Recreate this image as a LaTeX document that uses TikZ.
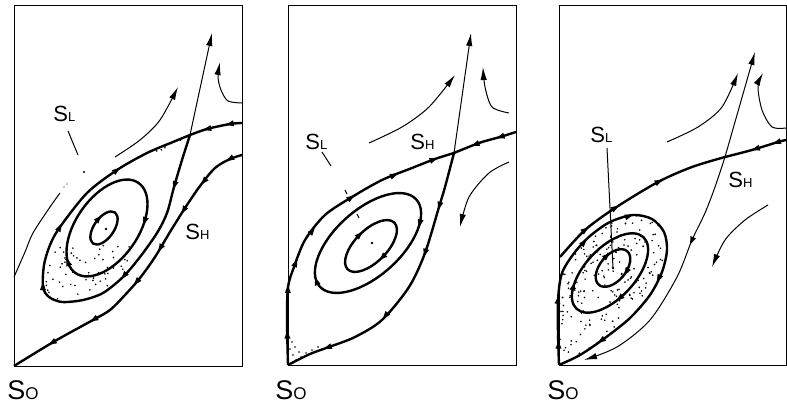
\documentclass[tikz,border=0pt]{standalone}
\usepackage{fontspec}
\setsansfont{Liberation Sans}
\usetikzlibrary{arrows.meta, decorations.markings}

\newcommand{\smallsub}[1]{{\fontsize{6.5}{6.5}\selectfont #1}}
\newcommand{\origsub}[1]{{\fontsize{8.5}{8.5}\selectfont #1}}
% smooth trajectory, with its direction marks set on the same points
\newcommand{\trajectory}[3]{%
    \draw[#1] plot[smooth] coordinates {#3};
    \path[#2] plot coordinates {#3};}
% closed orbit: centre x, centre y, half axes, tilt, marks
\newcommand{\orbit}[6]{%
    \draw[manifold, rotate around={#5:(#1,#2)}] (#1,#2) ellipse [x radius=#3, y radius=#4];
    \path[#6] plot[domain=0:360, samples=73]
        ({#1+#3*cos(\x)*cos(#5)+#4*sin(\x)*sin(#5)},{#2-#3*cos(\x)*sin(#5)+#4*sin(\x)*cos(#5)});}

\begin{document}
\begin{tikzpicture}[
    x=0.5pt, y=-0.5pt,
    panel/.style={line width=0.45pt},
    manifold/.style={line width=1.2pt, line join=round},
    flowline/.style={line width=0.5pt},
    flowtip/.style={-{Latex[length=6.5pt,width=3.2pt]}},
    tipat/.style={postaction={decorate, decoration={markings,
        mark=at position #1 with {\fill (2pt,0pt) -- (-2pt,1.5pt) -- (-2pt,-1.5pt) -- cycle;}}}},
    eqlabel/.style={inner sep=0pt, anchor=base west, font=\sffamily\fontsize{11}{11}\selectfont},
    originlabel/.style={inner sep=0pt, anchor=base west, font=\sffamily\fontsize{13.5}{13.5}\selectfont},
]
    \useasboundingbox (0,0) rectangle (787,405);
    \pgfmathsetseed{11}

    % Panel 1
    \draw[panel] (14,5) rectangle (242,366);
    \begin{scope}
        \clip plot[smooth] coordinates {(190,135) (182,160) (174,187) (167,213) (157,233) (140,257) (123,277) (103,293) (83,300) (62,302) (49,297) (43,287) (44,265) (50,245) (60,227) (87,193) (117,170) (147,153) (173,142) (190,135)};
        \foreach \k in {1,...,70}
            \fill ({45+85*rnd},{244+60*rnd}) circle (0.45pt);
        \foreach \k in {1,...,6}
            \fill ({145+40*rnd},{140+15*rnd}) circle (0.45pt);
    \end{scope}
    \trajectory{manifold}{tipat=0.04, tipat=0.15, tipat=0.26, tipat=0.40, tipat=0.53, tipat=0.71, tipat=0.86}
        {(242,155) (230,159) (215,168) (200,186) (185,208) (170,232) (155,257) (140,278) (125,295) (110,310) (93,320) (55,341) (14,366)}
    \trajectory{manifold}{tipat=0.11, tipat=0.33, tipat=0.53, tipat=0.66, tipat=0.83}
        {(190,135) (182,160) (174,187) (167,213) (157,233) (140,257) (123,277) (103,293) (83,300) (62,302) (49,297) (43,287) (44,265) (50,245) (60,227) (87,193) (117,170) (147,153) (173,142) (190,135)}
    \trajectory{manifold}{tipat=0.23, tipat=0.66}{(242,123) (230,124) (207,129) (190,135)}
    \orbit{107}{228}{55}{31}{55}{tipat=0.15, tipat=0.55}
    \orbit{104}{228}{19}{10}{55}{tipat=0.8}
    \coordinate (c1) at (106,229);
    \fill (c1) circle (0.65pt);
    \draw[flowline, flowtip] (190,135) -- (212,33);
    \draw[flowline, flowtip] plot[smooth] coordinates {(242,103) (228,101) (221,90) (218,77) (220,62)};
    \draw[flowline, flowtip] plot[smooth] coordinates {(115,157) (140,140) (160,120) (178,87)};
    \draw[flowline] plot[smooth] coordinates {(14,277) (25,252) (33,233) (50,207) (60,193)};
    \fill (64,187) circle (0.3pt);
    \fill (67,184) circle (0.3pt);
    \coordinate (l1) at (84,172);
    \draw[flowline] (68,131) -- (78,155);
    \fill (l1) circle (0.6pt);
    \node[eqlabel] (sl1) at (53,122) {S\smallsub{L}};
    \node[eqlabel] (sh1) at (185,240) {S\smallsub{H}};
    \node[originlabel] (so1) at (7,400) {S\origsub{O}};

    % Panel 2
    \begin{scope}[transform canvas={shift={(274,0)}}]
    \draw[panel] (14,5) rectangle (242,365);
    \foreach \p in {(18,342),(21,347),(25,352),(19,355),(27,357),(32,353),(38,350),(22,360),(44,347),(16,349)}
        \fill \p circle (0.45pt);
    \trajectory{manifold}{tipat=0.25, tipat=0.65}{(242,132) (226,137) (205,143) (180,153)}
    \trajectory{manifold}{tipat=0.1, tipat=0.25, tipat=0.34, tipat=0.46, tipat=0.63, tipat=0.79, tipat=0.93}
        {(14,365) (13,320) (14,287) (20,267) (31,240) (51,215) (78,197) (108,180) (138,168) (161,159) (180,153)}
    \trajectory{manifold}{tipat=0.19, tipat=0.36, tipat=0.62, tipat=0.85}
        {(180,153) (171,187) (165,207) (151,253) (135,287) (108,320) (81,337) (55,347) (36,354) (14,365)}
    \orbit{94}{243}{65}{33}{42}{tipat=0.08, tipat=0.52}
    \orbit{97}{246}{33}{16}{45}{tipat=0.25, tipat=0.75}
    \coordinate (c2) at (98,243);
    \fill (c2) circle (0.65pt);
    \draw[flowline, flowtip] (180,153) -- (197,33);
    \draw[flowline, flowtip] plot[smooth] coordinates {(95,143) (128,127) (155,107) (181,75)};
    \draw[flowline, flowtip] plot[smooth] coordinates {(235,113) (218,107) (211,87) (209,67)};
    \draw[flowline, flowtip] plot[smooth] coordinates {(235,162) (215,173) (195,197) (186,227)};
    \draw[flowline] (48,152) -- (57,166);
    \draw[flowline] (71,190) -- (73,194);
    \draw[flowline] (83,214) -- (85,218);
    \node[eqlabel] (sl2) at (31,150) {S\smallsub{L}};
    \node[eqlabel] (sh2) at (136,150) {S\smallsub{H}};
    \node[originlabel] (so2) at (1,400) {S\origsub{O}};
    \end{scope}

    % Panel 3
    \begin{scope}[transform canvas={shift={(545,0)}}]
    \draw[panel] (14,5) rectangle (241,365);
    \begin{scope}
        \clip plot[smooth] coordinates {(14,365) (13,333) (13,300) (17,273) (30,252) (45,236) (65,222) (88,215) (107,219) (119,232) (122,250) (117,272) (105,295) (85,318) (60,338) (35,355) (14,365)};
        \foreach \k in {1,...,300}
            \fill ({11+112*rnd},{212+154*rnd}) circle (0.45pt);
    \end{scope}
    \trajectory{manifold}{tipat=0.05, tipat=0.16, tipat=0.32, tipat=0.45, tipat=0.67, tipat=0.88}
        {(14,365) (13,333) (13,300) (17,273) (30,252) (45,236) (65,222) (88,215) (107,219) (119,232) (122,250) (117,272) (105,295) (85,318) (60,338) (35,355) (14,365)}
    \trajectory{manifold}{tipat=0.19, tipat=0.38, tipat=0.64}{(15,257) (40,230) (70,208) (113,182) (147,167) (180,157)}
    \trajectory{manifold}{tipat=0.15, tipat=0.5}{(241,140) (233,142) (207,150) (180,157)}
    \orbit{65}{273}{49}{25}{47}{tipat=0.3, tipat=0.6}
    \orbit{68}{268}{22}{13}{50}{tipat=0.2, tipat=0.8}
    \coordinate (c3) at (68,268);
    \fill (c3) circle (0.65pt);
    \draw[flowline, flowtip] (180,157) -- (210,52);
    \trajectory{flowline, flowtip}{tipat=0.35}{(180,157) (170,187) (160,213) (147,240) (132,277) (105,320) (72,347) (39,360)}
    \draw[flowline, flowtip] plot[smooth] coordinates {(122,142) (153,127) (177,107) (193,73)};
    \draw[flowline, flowtip] plot[smooth] coordinates {(241,128) (227,127) (217,110) (213,87) (218,73)};
    \draw[flowline, flowtip] plot[smooth] coordinates {(223,205) (200,220) (180,240) (167,267)};
    \draw[flowline] (62,148) -- (c3);
    \node[eqlabel] (sl3) at (45,143) {S\smallsub{L}};
    \node[eqlabel] (sh3) at (183,188) {S\smallsub{H}};
    \node[originlabel] (so3) at (2,400) {S\origsub{O}};
    \end{scope}
\end{tikzpicture}
\end{document}
